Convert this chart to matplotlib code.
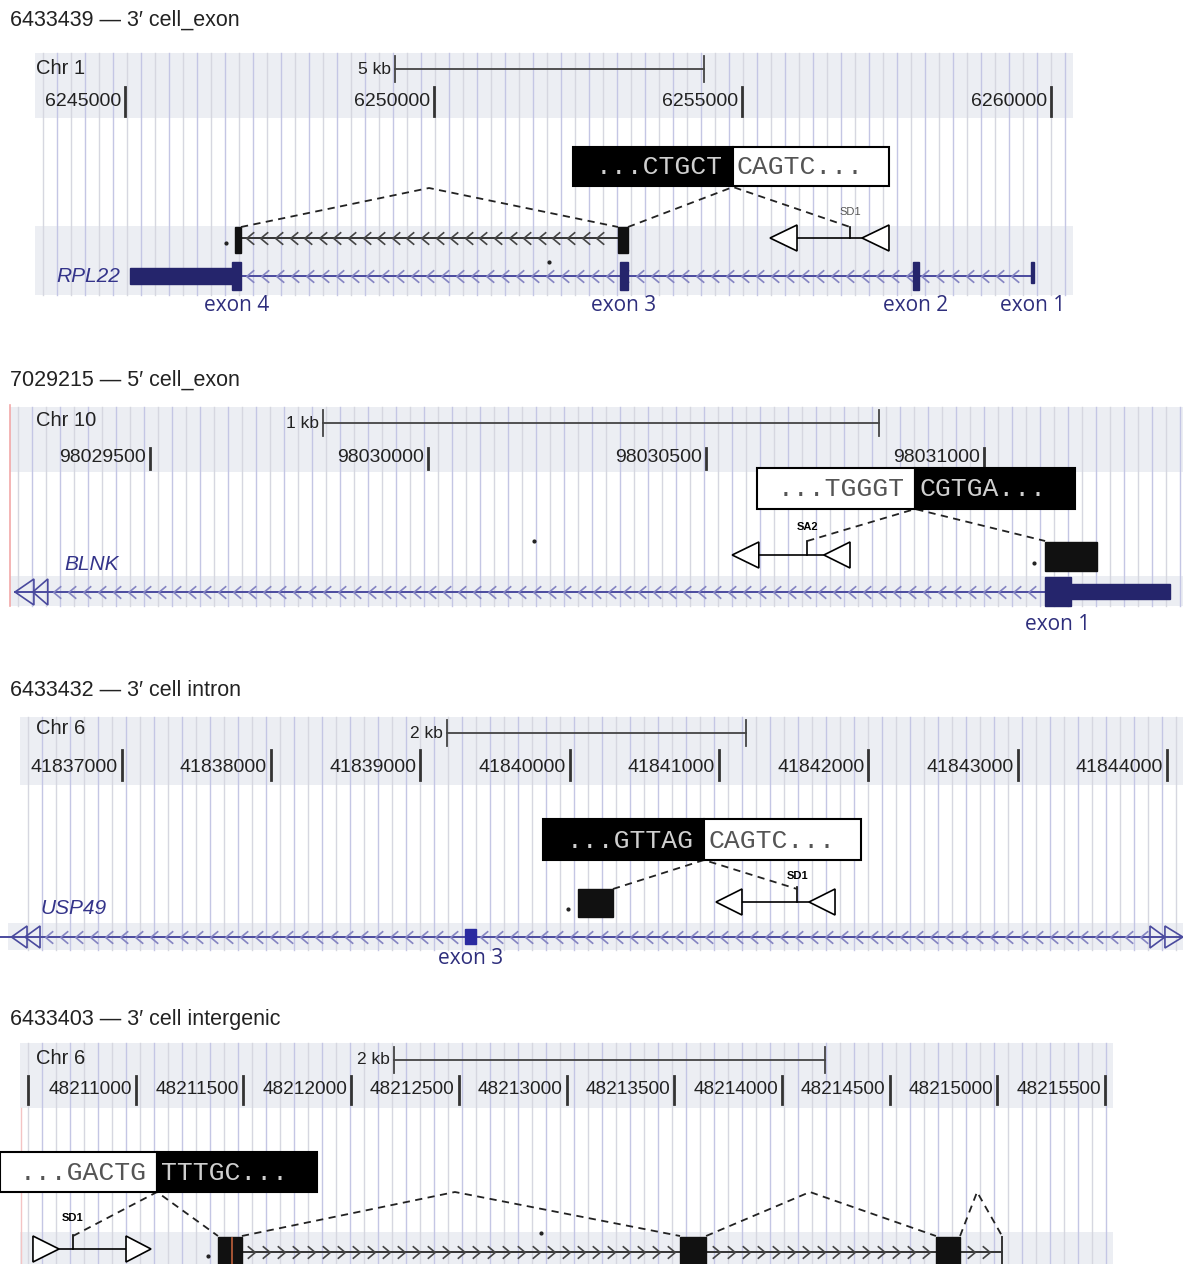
import matplotlib
matplotlib.use("Agg")
import matplotlib.pyplot as plt
from matplotlib.patches import Rectangle, Polygon
from matplotlib.path import Path
import numpy as np

plt.rcParams["font.family"] = ["Liberation Sans", "DejaVu Sans"]

W, H = 1183, 1264

# ---- panel 1: RPL22 (chr 1) ----
p1_title = "6433439 \u2014 3\u2032 cell_exon"
p1_chrom = "Chr 1"
p1_view = (6242975, 6262139)
p1_ticks = [6245000, 6250000, 6255000, 6260000]
p1_scale = (6249374, 5000, "5 kb")
p1_gene = "RPL22"
p1_gene_line = (6246879, 6259700)
p1_gene_thick = (6245081, 6246782)
p1_exons = [(6246733, 6246879), (6253019, 6253148), (6257765, 6257862), (6259680, 6259722)]
p1_exon_names = ["exon 4", "exon 3", "exon 2", "exon 1"]
p1_cons_exons = [(6246782, 6246879), (6252987, 6253148)]
p1_seq = (6252257, 6254849, 6257376, "...CTGCT", "CAGTC...")
p1_elem = [(6255449, 6255886), (6256939, 6257376)]
p1_elem_tick = (6256745, "SD1")
p1_dashes = [[6246879, 6249925, 6252987], [6253148, 6254849, 6256745]]
p1_dots = [6246636, 6251869]

# ---- panel 2: BLNK (chr 10) ----
p2_title = "7029215 \u2014 5\u2032 cell_exon"
p2_chrom = "Chr 10"
p2_view = (98029230, 98031358)
p2_ticks = [98029500, 98030000, 98030500, 98031000]
p2_scale = (98029811, 1000, "1 kb")
p2_gene = "BLNK"
p2_gene_line = (98029257, 98031110)
p2_gene_ends = [(98029257, 98029291), (98029289, 98029316)]
p2_exon_tall = (98031110, 98031156)
p2_exon_thick = (98031156, 98031335)
p2_cons_box = (98031110, 98031203)
p2_seq = (98030592, 98030876, 98031164, "...TGGGT", "CGTGA...")
p2_elem = [(98030547, 98030595), (98030712, 98030759)]
p2_elem_tick = (98030682, "SA2")
p2_dashes = [[98030682, 98030876, 98031110]]
p2_dots = [98030191, 98031090]

# ---- panel 3: USP49 (chr 6) ----
p3_title = "6433432 \u2014 3\u2032 cell intron"
p3_chrom = "Chr 6"
p3_view = (41836186, 41844107)
p3_ticks = [41837000, 41838000, 41839000, 41840000, 41841000, 41842000, 41843000, 41844000]
p3_scale = (41839180, 2000, "2 kb")
p3_gene = "USP49"
p3_gene_ends_left = [(41836263, 41836367), (41836353, 41836454)]
p3_gene_ends_right = [(41843986, 41843886), (41844106, 41843986)]
p3_exon3 = (41839300, 41839374)
p3_cons_box = (41840055, 41840290)
p3_seq = (41839822, 41840900, 41841951, "...GTTAG", "CAGTC...")
p3_elem = [(41840980, 41841154), (41841603, 41841777)]
p3_elem_tick = (41841523, "SD1")
p3_dashes = [[41840290, 41840900, 41841523]]
p3_dots = [41839989]

# ---- panel 4: intergenic (chr 6) ----
p4_title = "6433403 \u2014 3\u2032 cell intergenic"
p4_chrom = "Chr 6"
p4_view = (48210370, 48215862)
p4_ticks = [48210500, 48211000, 48211500, 48212000, 48212500, 48213000,
            48213500, 48214000, 48214500, 48215000, 48215500]
p4_tick_labels = ["", "48211000", "48211500", "48212000", "48212500", "48213000",
                  "48213500", "48214000", "48214500", "48215000", "48215500"]
p4_scale = (48212200, 2000, "2 kb")
p4_cons_exons = [(48211382, 48211493), (48213527, 48213648), (48214715, 48214827)]
p4_cons_end = 48215022
p4_seq = (48210370, 48211099, 48211842, "...GACTG", "TTTGC...")
p4_elem = [(48210644, 48210523), (48211071, 48210955)]
p4_elem_tick = (48210709, "SD1")
p4_dashes = [[48210709, 48211099, 48211382], [48211493, 48212482, 48213527],
             [48213648, 48214130, 48214715], [48214827, 48214906, 48215022]]
p4_dots = [48211336, 48212882]

BAND = "#eceef3"
GENE = "#25256c"
GLINE = "#4a4a9e"
GCHEV = "#8484c2"
LABEL = "#2e2e7c"
MONO = "Liberation Mono"

fig = plt.figure(figsize=(W / 100, H / 100), dpi=100)

CHEV_L = Path([(0.6, 1), (-0.6, 0), (0.6, -1)], [Path.MOVETO, Path.LINETO, Path.LINETO])
CHEV_R = Path([(-0.6, 1), (0.6, 0), (-0.6, -1)], [Path.MOVETO, Path.LINETO, Path.LINETO])


def panel(y0, y1, view):
    ax = fig.add_axes([0, 1 - y1 / H, 1, (y1 - y0) / H])
    ax.set_xlim(view)
    ax.set_ylim(y1, y0)
    ax.axis("off")
    return ax


def bp(ax, xpx):
    a, b = ax.get_xlim()
    return a + (b - a) * xpx / W


def ppb(ax):
    a, b = ax.get_xlim()
    return (b - a) / W


def band(ax, x0, x1, y0, y1):
    ax.add_patch(Rectangle((bp(ax, x0), y0), bp(ax, x1) - bp(ax, x0), y1 - y0,
                           color=BAND, lw=0, zorder=0))


def grid(ax, x0, x1, y0, y1):
    xs = np.arange(bp(ax, x0 + 8), bp(ax, x1), 14 * ppb(ax))
    for i, x in enumerate(xs):
        ax.plot([x, x], [y0, y1], color="#c4c6e4" if i % 2 else "#d6d7e0",
                lw=1, zorder=1)


def header(ax, chrom, cy, ticks, labels, ty, ty0, ty1, scale, sy, tsize=14):
    ax.text(bp(ax, 36), cy, chrom, fontsize=14.5, va="center", color="#222")
    start, length, lab = scale
    ax.plot([start, start + length], [sy, sy], color="#444", lw=1.3, zorder=3)
    for x in (start, start + length):
        ax.plot([x, x], [sy - 13, sy + 13], color="#444", lw=1.3, zorder=3)
    ax.text(start - 4 * ppb(ax), sy, lab, fontsize=12.5, ha="right", va="center", color="#222")
    for t, l in zip(ticks, labels):
        ax.plot([t, t], [ty0, ty1], color="#333", lw=2, zorder=3)
        ax.text(t - 4 * ppb(ax), ty, l, fontsize=tsize, ha="right", va="center", color="#222")


def chevrons(ax, x0, x1, y, color, path, step=15, ms=9, lw=1.2):
    xs = np.arange(x0 + step * ppb(ax) * 0.6, x1 - step * ppb(ax) * 0.3, step * ppb(ax))
    ax.plot(xs, np.full(len(xs), y), ls="", marker=path, ms=ms, mfc="none",
            mec=color, mew=lw, zorder=3)


def seqbox(ax, seq, y0, y1, left_black):
    left, mid, right, ltxt, rtxt = seq
    lc, rc = ("black", "white") if left_black else ("white", "black")
    ax.add_patch(Rectangle((left, y0), mid - left, y1 - y0, fc=lc, ec="black", lw=1.5, zorder=5))
    ax.add_patch(Rectangle((mid, y0), right - mid, y1 - y0, fc=rc, ec="black", lw=1.5, zorder=5))
    ym = (y0 + y1) / 2 + 1
    ax.text(mid - 10 * ppb(ax), ym, ltxt, family=MONO, fontsize=19, ha="right", va="center",
            color="#cfcfcf" if left_black else "#555", zorder=6)
    ax.text(mid + 4 * ppb(ax), ym, rtxt, family=MONO, fontsize=19, ha="left", va="center",
            color="#555" if left_black else "#cfcfcf", zorder=6)


def element(ax, tris, y, half, tick, tick_top, label_y, bold):
    for apex, base in tris:
        ax.add_patch(Polygon([(apex, y), (base, y - half), (base, y + half)], closed=True,
                             fc="white", ec="black", lw=1.2, zorder=5))
    ax.plot([max(tris[0]), min(tris[1])], [y, y], color="black", lw=1.2, zorder=4)
    tx, lab = tick
    ax.plot([tx, tx], [tick_top, y], color="black", lw=1.2, zorder=4)
    ax.text(tx, label_y, lab, fontsize=8, ha="center", va="center",
            fontweight="bold" if bold else "normal", color="black" if bold else "#555")


def dashed(ax, xs, ybase, ypeak):
    ax.plot(xs, [ybase, ypeak, ybase], color="#222", lw=1.3, ls=(0, (4, 3)), zorder=4)


def dots(ax, xs, ys):
    ax.plot(xs, ys, ls="", marker="o", ms=2, color="#222", zorder=3)


def exon_label(ax, x, y, text):
    ax.text(x, y, text, fontsize=15, ha="center", va="center", color=LABEL,
            family=["Open Sans", "DejaVu Sans"])


def gene_label(ax, x, y, text, ha):
    ax.text(x, y, text, fontsize=15, ha=ha, va="center", style="italic", color="#34348a")


def title(y, text):
    fig.text(10 / W, 1 - y / H, text, fontsize=15.5, va="center", color="#222")


# ================= panel 1 =================
title(20, p1_title)
ax = panel(40, 330, p1_view)
band(ax, 35, 1073, 53, 118)
band(ax, 35, 1073, 226, 295)
grid(ax, 35, 1073, 53, 295)
header(ax, p1_chrom, 69, p1_ticks, [str(t) for t in p1_ticks], 102, 87, 116, p1_scale, 69)
seqbox(ax, p1_seq, 147, 186, True)
# construct
ax.plot([p1_cons_exons[0][1], p1_cons_exons[1][0]], [238, 238], color="#333", lw=1.4, zorder=3)
chevrons(ax, p1_cons_exons[0][1], p1_cons_exons[1][0], 238, "#444", CHEV_L, step=14.6)
for a, b in p1_cons_exons:
    ax.add_patch(Rectangle((a, 227), b - a, 26, color="#111", zorder=4))
element(ax, p1_elem, 238, 13, p1_elem_tick, 227, 212, False)
dashed(ax, p1_dashes[0], 227, 188)
dashed(ax, p1_dashes[1], 227, 187)
# gene
ax.plot(p1_gene_line, [276, 276], color=GLINE, lw=1.4, zorder=3)
chevrons(ax, p1_gene_line[0], p1_gene_line[1], 276, GCHEV, CHEV_L)
ax.add_patch(Rectangle((p1_gene_thick[0], 268), p1_gene_thick[1] - p1_gene_thick[0], 16, color=GENE, zorder=4))
for i, (a, b) in enumerate(p1_exons):
    top, bot = (262, 283) if i == 3 else (262, 290)
    ax.add_patch(Rectangle((a, top), b - a, bot - top, color=GENE, zorder=4))
    exon_label(ax, (a + b) / 2, 305, p1_exon_names[i])
gene_label(ax, bp(ax, 120), 276, p1_gene, "right")
dots(ax, p1_dots, [243, 262])

# ================= panel 2 =================
title(380, p2_title)
ax = panel(395, 660, p2_view)
band(ax, 10, 1183, 407, 472)
band(ax, 10, 1183, 576, 606)
grid(ax, 10, 1183, 407, 606)
ax.plot([bp(ax, 10)] * 2, [405, 606], color="#f2a8a8", lw=1.2, zorder=2)
header(ax, p2_chrom, 420, p2_ticks, [str(t) for t in p2_ticks], 457, 448, 469, p2_scale, 423)
seqbox(ax, p2_seq, 468, 509, False)
ax.add_patch(Rectangle((p2_cons_box[0], 542), p2_cons_box[1] - p2_cons_box[0], 29, color="#111", zorder=4))
element(ax, p2_elem, 555, 13, p2_elem_tick, 541, 527, True)
dashed(ax, p2_dashes[0], 541, 509)
ax.plot(p2_gene_line, [592, 592], color=GLINE, lw=1.4, zorder=3)
chevrons(ax, p2_gene_ends[1][1], p2_gene_line[1], 592, GCHEV, CHEV_L)
for apex, base in p2_gene_ends:
    ax.add_patch(Polygon([(apex, 592), (base, 579), (base, 605)], closed=True,
                         fc="none", ec=GLINE, lw=1.2, zorder=4))
ax.add_patch(Rectangle((p2_exon_tall[0], 577), p2_exon_tall[1] - p2_exon_tall[0], 29, color=GENE, zorder=4))
ax.add_patch(Rectangle((p2_exon_thick[0], 584), p2_exon_thick[1] - p2_exon_thick[0], 15, color=GENE, zorder=4))
exon_label(ax, sum(p2_exon_tall) / 2, 625, "exon 1")
gene_label(ax, bp(ax, 64), 564, p2_gene, "left")
dots(ax, p2_dots, [541, 563])

# ================= panel 3 =================
title(691, p3_title)
ax = panel(705, 1000, p3_view)
band(ax, 20, 1183, 717, 785)
band(ax, 8, 1183, 923, 950)
grid(ax, 20, 1183, 717, 950)
header(ax, p3_chrom, 729, p3_ticks, [str(t) for t in p3_ticks], 767, 750, 780, p3_scale, 733)
seqbox(ax, p3_seq, 819, 860, True)
ax.add_patch(Rectangle((p3_cons_box[0], 889), p3_cons_box[1] - p3_cons_box[0], 28, color="#111", zorder=4))
element(ax, p3_elem, 902, 13, p3_elem_tick, 887, 876, True)
dashed(ax, p3_dashes[0], 889, 860)
ax.plot(p3_view, [937, 937], color=GLINE, lw=1.4, zorder=3)
chevrons(ax, p3_gene_ends_left[1][1], p3_gene_ends_right[0][1], 937, GCHEV, CHEV_L)
for apex, base in p3_gene_ends_left + p3_gene_ends_right:
    ax.add_patch(Polygon([(apex, 937), (base, 926), (base, 948)], closed=True,
                         fc="none", ec=GLINE, lw=1.2, zorder=4))
ax.add_patch(Rectangle((p3_exon3[0], 929), p3_exon3[1] - p3_exon3[0], 15, color="#2a2aa0", zorder=4))
exon_label(ax, sum(p3_exon3) / 2, 958, "exon 3")
gene_label(ax, bp(ax, 40), 909, p3_gene, "left")
dots(ax, p3_dots, [909])

# ================= panel 4 =================
title(1020, p4_title)
ax = panel(1030, 1264, p4_view)
band(ax, 20, 1113, 1043, 1108)
band(ax, 20, 1113, 1232, 1264)
grid(ax, 20, 1113, 1043, 1264)
ax.plot([bp(ax, 21)] * 2, [1108, 1264], color="#f4c4c4", lw=1, zorder=2)
header(ax, p4_chrom, 1058, p4_ticks, p4_tick_labels, 1089, 1076, 1104, p4_scale, 1060, tsize=13.7)
seqbox(ax, p4_seq, 1152, 1192, False)
element(ax, p4_elem, 1249, 13, p4_elem_tick, 1235, 1218, True)
for xs in p4_dashes:
    dashed(ax, xs, 1236, 1192)
ax.plot([p4_cons_exons[0][1], p4_cons_end], [1252, 1252], color="#333", lw=1.4, zorder=3)
chevrons(ax, p4_cons_exons[0][1], p4_cons_end - 10 * ppb(ax), 1252, "#444", CHEV_R, step=15)
for a, b in p4_cons_exons:
    ax.add_patch(Rectangle((a, 1237), b - a, 40, color="#111", zorder=4))
ax.plot([bp(ax, 232)] * 2, [1238, 1264], color="#c0603a", lw=1.2, zorder=5)
ax.plot([p4_cons_end] * 2, [1237, 1264], color="#333", lw=1.4, zorder=3)
dots(ax, p4_dots, [1256, 1233])

fig.savefig("out.png", dpi=100)
